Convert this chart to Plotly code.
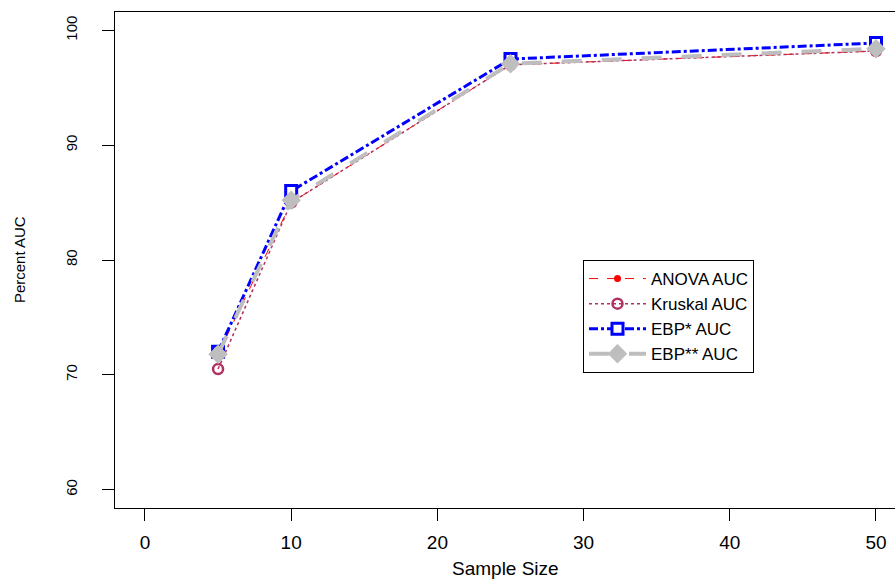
import plotly.graph_objects as go

sample_size = [5, 10, 25, 50]
anova_auc = [71.8, 85.0, 97.0, 98.2]
kruskal_auc = [70.5, 85.0, 97.0, 98.2]
ebp1_auc = [72.0, 86.0, 97.5, 98.9]
ebp2_auc = [71.8, 85.2, 97.1, 98.4]

x_ticks = [0, 10, 20, 30, 40, 50]
y_ticks = [60, 70, 80, 90, 100]
x_title = "Sample Size"
y_title = "Percent AUC"

FONT = "Liberation Sans, Arial, Helvetica, sans-serif"

fig = go.Figure()
fig.add_trace(go.Scatter(
    x=sample_size, y=anova_auc, name="ANOVA AUC", mode="lines+markers",
    line=dict(color="#FF0000", width=1, dash="dash"),
    marker=dict(symbol="circle", size=7, color="#FF0000")))
fig.add_trace(go.Scatter(
    x=sample_size, y=kruskal_auc, name="Kruskal AUC", mode="lines+markers",
    line=dict(color="#B03060", width=1.5, dash="dot"),
    marker=dict(symbol="circle-open", size=10, color="#B03060", line=dict(width=2.5))))
fig.add_trace(go.Scatter(
    x=sample_size, y=ebp1_auc, name="EBP* AUC", mode="lines+markers",
    line=dict(color="#0000FF", width=3, dash="dashdot"),
    marker=dict(symbol="square", size=11, color="white", line=dict(color="#0000FF", width=3))))
fig.add_trace(go.Scatter(
    x=sample_size, y=ebp2_auc, name="EBP** AUC", mode="lines+markers",
    line=dict(color="#BEBEBE", width=4, dash="longdash"),
    marker=dict(symbol="diamond", size=15, color="#BEBEBE")))

fig.update_layout(
    width=895, height=580,
    margin=dict(l=115, r=0, t=12, b=72, autoexpand=False),
    paper_bgcolor="white", plot_bgcolor="white",
    font=dict(family=FONT, size=15, color="black"),
    showlegend=True,
    legend=dict(
        x=0.6, y=0.5, xanchor="left", yanchor="top",
        bordercolor="black", borderwidth=1, bgcolor="white",
        font=dict(size=17), itemwidth=57, tracegroupgap=0,
    ),
    xaxis=dict(
        range=[-2.05, 51.3], tickvals=x_ticks, ticks="outside", ticklen=12,
        tickcolor="black", showline=True, linecolor="black", linewidth=1,
        mirror=True, showgrid=False, zeroline=False, automargin=False,
        tickfont=dict(size=19), ticklabelstandoff=5,
    ),
    yaxis=dict(
        range=[58.4, 101.6], tickvals=y_ticks, ticks="outside", ticklen=12,
        tickcolor="black", showline=True, linecolor="black", linewidth=1,
        showgrid=False, zeroline=False, tickangle=-90, automargin=False,
        tickfont=dict(size=15), ticklabelstandoff=19,
    ),
    annotations=[
        dict(text=x_title, xref="paper", yref="paper", x=0.5, y=-0.121,
             xanchor="center", yanchor="middle", showarrow=False,
             font=dict(size=19)),
        dict(text=y_title, xref="paper", yref="paper", x=-0.123, y=0.5,
             xanchor="center", yanchor="middle", showarrow=False,
             textangle=-90, font=dict(size=15)),
    ],
)

fig.write_html("out.html")
